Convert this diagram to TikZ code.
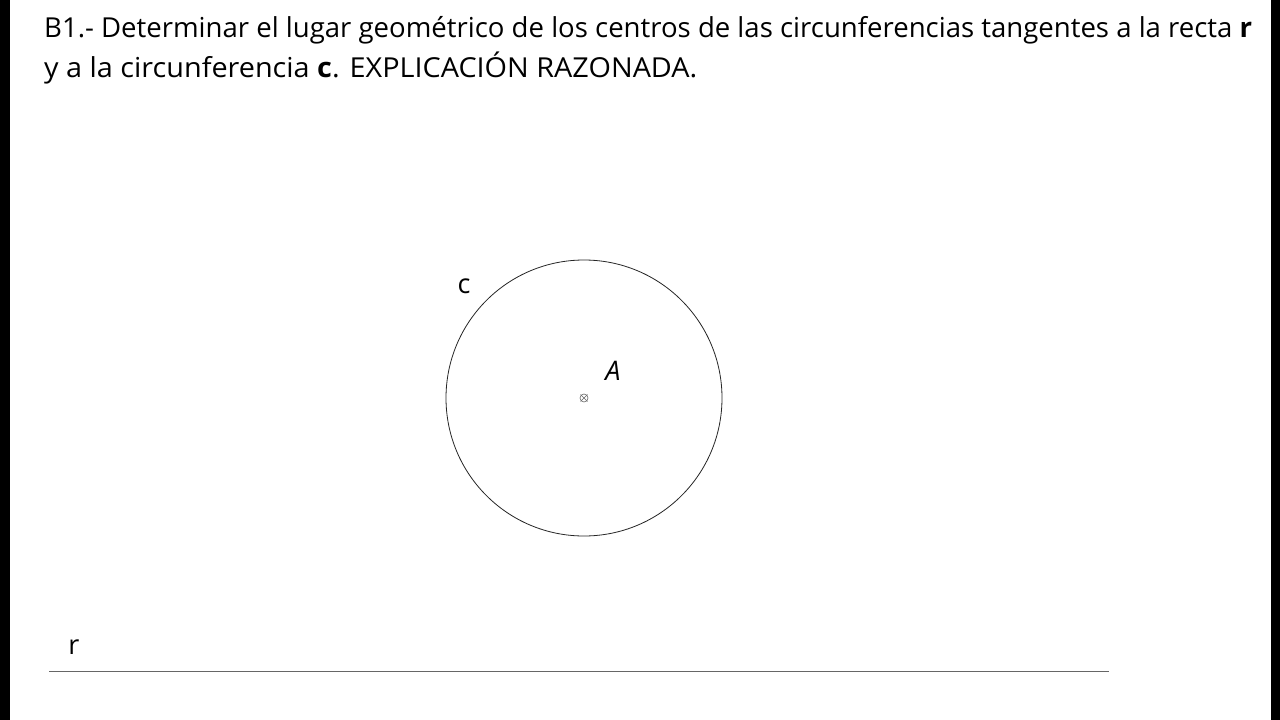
\documentclass[tikz,border=0pt]{standalone}
\usepackage{fontspec}
\usepackage{graphicx}
\usetikzlibrary{calc}
\setmainfont{Open Sans}
\begin{document}
\begin{tikzpicture}[x=1pt,y=-1pt,
  title/.style={anchor=base west,inner sep=0pt,font=\fontsize{27.5}{30}\selectfont},
  lbl/.style={inner sep=0pt,font=\fontsize{27}{30}\selectfont}]
\useasboundingbox (0,0) rectangle (1280,720);
\fill[white] (0,0) rectangle (1280,720);
\fill[black] (0,0) rectangle (10,720);
\fill[black] (1271,0) rectangle (1280,720);
\node[title] (t1) at (44,37) {\resizebox{1208pt}{\height}{B1.- Determinar el lugar geométrico de los centros de las circunferencias tangentes a la recta \textbf{r}}};
\node[title] (t2) at (44,77) {\resizebox{653pt}{\height}{y a la circunferencia \textbf{c}. EXPLICACIÓN RAZONADA.}};
\coordinate (A) at (584,398);
\draw[line width=0.8pt,black!85] (A) circle[radius=138];
\draw[line width=0.6pt,black!60] (A) circle[radius=4];
\draw[line width=0.6pt,black!60] ($(A)+(-3.5,-3.5)$) -- ($(A)+(3.5,3.5)$) ($(A)+(-3.5,3.5)$) -- ($(A)+(3.5,-3.5)$);
\node[lbl] (lA) at (613,371) {\textit{A}};
\node[lbl] (lc) at (464,286) {c};
\coordinate (r1) at (49,671);
\coordinate (r2) at (1109,671);
\draw[line width=1pt,black!60] (r1) -- (r2);
\node[lbl] (lr) at (74,647) {r};
\end{tikzpicture}
\end{document}
